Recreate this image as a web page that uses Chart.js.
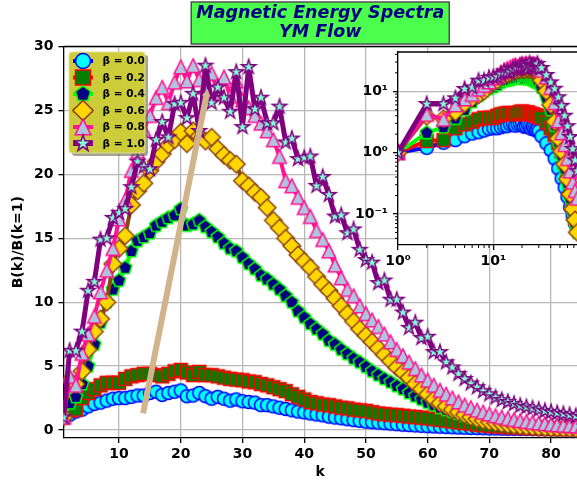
<!DOCTYPE html>
<html>
<head>
<meta charset="utf-8">
<script src="https://cdn.jsdelivr.net/npm/chart.js@4.4.0/dist/chart.umd.min.js"></script>
<style>
  html, body { margin: 0; padding: 0; background: #fff; overflow: hidden; }
  #wrap { position: relative; width: 577px; height: 485px; }
  #main { position: absolute; left: 0; top: 0; }
  #inset { position: absolute; left: 330px; top: 40px; }
</style>
</head>
<body>
<div id="wrap">
  <canvas id="main" width="577" height="485"></canvas>
  <canvas id="inset" width="247" height="240"></canvas>
</div>
<script>
// wavenumbers
const kValues = [
  1, 2, 3, 4, 5, 6, 7, 8, 9, 10, 11, 12, 13, 14, 15, 16, 17, 18, 19, 20,
  21, 22, 23, 24, 25, 26, 27, 28, 29, 30, 31, 32, 33, 34, 35, 36, 37, 38, 39, 40,
  41, 42, 43, 44, 45, 46, 47, 48, 49, 50, 51, 52, 53, 54, 55, 56, 57, 58, 59, 60,
  61, 62, 63, 64, 65, 66, 67, 68, 69, 70, 71, 72, 73, 74, 75, 76, 77, 78, 79, 80,
  81, 82, 83, 84, 85, 86, 87, 88
];

// B(k)/B(k=1) for each beta (main panel)
const beta00 = [
  1.0, 1.2, 1.45, 1.6, 1.85, 2.05, 2.15, 2.3, 2.45, 2.5,
  2.5, 2.6, 2.7, 2.7, 2.9, 3.0, 2.75, 2.9, 3.0, 3.1,
  2.65, 2.7, 2.9, 2.65, 2.45, 2.6, 2.45, 2.3, 2.4, 2.25,
  2.2, 2.15, 1.95, 1.95, 1.85, 1.75, 1.65, 1.55, 1.45, 1.38,
  1.3, 1.22, 1.15, 1.05, 0.98, 0.92, 0.85, 0.78, 0.72, 0.66,
  0.62, 0.58, 0.54, 0.5, 0.46, 0.42, 0.39, 0.36, 0.33, 0.3,
  0.28, 0.26, 0.24, 0.22, 0.2, 0.185, 0.17, 0.155, 0.145, 0.13,
  0.12, 0.11, 0.1, 0.095, 0.09, 0.085, 0.08, 0.075, 0.07, 0.066,
  0.062, 0.058, 0.055, 0.052, 0.05, 0.048, 0.046, 0.044
];
const beta02 = [
  1.0, 1.55, 1.6, 2.5, 2.9, 3.2, 3.5, 3.7, 3.7, 3.7,
  4.0, 4.2, 4.3, 4.4, 4.4, 4.3, 4.2, 4.4, 4.6, 4.7,
  4.5, 4.3, 4.55, 4.3, 4.3, 4.2, 4.1, 4.0, 3.95, 3.9,
  3.8, 3.75, 3.6, 3.5, 3.35, 3.2, 3.05, 2.8, 2.6, 2.4,
  2.2, 2.1, 2.0, 1.95, 1.85, 1.75, 1.7, 1.6, 1.55, 1.5,
  1.4, 1.3, 1.25, 1.2, 1.17, 1.12, 1.06, 1.02, 0.97, 0.92,
  0.86, 0.8, 0.73, 0.67, 0.6, 0.55, 0.5, 0.43, 0.38, 0.33,
  0.3, 0.27, 0.24, 0.22, 0.2, 0.18, 0.16, 0.15, 0.13, 0.12,
  0.11, 0.1, 0.09, 0.085, 0.08, 0.075, 0.07, 0.065
];
const beta04 = [
  1.0, 2.1, 2.6, 3.6, 5.0, 6.7, 8.4, 10.0, 11.0, 11.7,
  12.7, 14.0, 14.8, 15.1, 15.4, 16.0, 16.3, 16.6, 16.8, 17.3,
  16.0, 16.1, 16.4, 15.9, 15.5, 15.1, 14.6, 14.2, 14.0, 13.5,
  13.0, 12.6, 12.1, 11.8, 11.4, 11.0, 10.5, 10.0, 9.3, 8.8,
  8.3, 7.9, 7.5, 7.0, 6.7, 6.3, 5.95, 5.6, 5.3, 4.95,
  4.6, 4.3, 4.0, 3.75, 3.45, 3.2, 2.9, 2.65, 2.4, 2.15,
  1.95, 1.75, 1.6, 1.45, 1.3, 1.15, 1.0, 0.88, 0.77, 0.67,
  0.6, 0.53, 0.47, 0.42, 0.37, 0.33, 0.3, 0.27, 0.24, 0.22,
  0.2, 0.18, 0.16, 0.15, 0.14, 0.13, 0.12, 0.11
];
const beta06 = [
  1.0, 3.9, 3.6, 4.6, 6.3, 7.7, 8.7, 10.0, 13.0, 14.2,
  15.2, 17.6, 18.7, 19.3, 20.3, 21.0, 21.6, 22.3, 22.7, 23.3,
  22.4, 23.4, 23.0, 22.6, 22.9, 22.0, 21.5, 21.1, 20.8, 19.5,
  19.1, 18.6, 18.2, 17.4, 16.4, 15.8, 15.0, 14.4, 13.7, 13.2,
  12.7, 12.0, 11.4, 10.9, 10.3, 9.7, 9.1, 8.5, 7.9, 7.4,
  6.9, 6.4, 5.9, 5.4, 4.9, 4.5, 4.1, 3.6, 3.2, 2.8,
  2.4, 2.1, 1.85, 1.6, 1.4, 1.2, 1.02, 0.88, 0.75, 0.65,
  0.56, 0.48, 0.42, 0.36, 0.31, 0.27, 0.24, 0.21, 0.19, 0.17,
  0.15, 0.13, 0.12, 0.11, 0.1, 0.09, 0.085, 0.08
];
const beta08 = [
  1.0, 4.2, 3.5, 6.0, 7.5, 8.9, 10.8, 12.5, 14.2, 16.5,
  18.0, 20.3, 21.8, 23.5, 24.6, 26.0, 26.8, 25.6, 27.2, 28.4,
  27.3, 28.5, 27.4, 26.8, 27.9, 26.4, 27.6, 26.1, 27.3, 25.8,
  25.2, 24.6, 24.0, 23.4, 22.7, 21.4, 19.5, 19.1, 18.2, 17.4,
  16.7, 15.6, 14.9, 14.0, 12.9, 11.9, 11.0, 10.5, 9.7, 9.1,
  8.6, 8.1, 7.5, 6.9, 6.3, 5.8, 5.3, 4.8, 4.3, 3.9,
  3.5, 3.1, 2.8, 2.5, 2.2, 1.95, 1.75, 1.55, 1.4, 1.25,
  1.12, 1.0, 0.9, 0.82, 0.74, 0.67, 0.61, 0.55, 0.5, 0.45,
  0.41, 0.37, 0.34, 0.31, 0.28, 0.26, 0.24, 0.22
];
const beta10 = [
  1.0, 6.2, 6.2, 7.7, 10.9, 11.6, 14.9, 15.0, 16.6, 17.0,
  17.3, 19.0, 21.0, 20.6, 20.4, 22.7, 24.1, 22.9, 25.5, 25.6,
  24.4, 26.3, 23.4, 28.5, 25.6, 26.8, 26.0, 24.9, 28.0, 23.7,
  28.4, 25.1, 26.0, 24.0, 24.0, 25.3, 22.5, 22.8, 21.2, 21.3,
  21.4, 19.1, 19.8, 18.4, 16.7, 16.8, 15.4, 15.7, 14.1, 13.3,
  13.1, 11.5, 11.7, 10.2, 10.2, 9.2, 8.0, 8.4, 7.2, 7.3,
  6.1, 6.1, 5.3, 4.9, 4.4, 4.0, 3.65, 3.35, 3.05, 2.8,
  2.55, 2.35, 2.2, 2.05, 1.9, 1.8, 1.7, 1.6, 1.5, 1.42,
  1.34, 1.26, 1.18, 1.1, 1.03, 0.96, 0.9, 0.85
];

// inset: same spectra up to k = 30, then its own faster fall-off
const insetHeadCount = 30;
const insetTailK = [32, 36, 40, 44, 48, 52, 56, 60, 64, 68, 72, 76];
const insetTail00 = [1.85, 1.42, 1.1, 0.8, 0.55, 0.38, 0.27, 0.19, 0.13, 0.095, 0.07, 0.055];
const insetTail02 = [3.7, 3.1, 2.5, 1.95, 1.45, 1.05, 0.7, 0.42, 0.26, 0.15, 0.085, 0.06];
const insetTail04 = [11.5, 8.0, 5.0, 2.8, 1.5, 0.9, 0.55, 0.32, 0.18, 0.11, 0.07, 0.05];
const insetTail06 = [15.0, 10.0, 6.0, 3.2, 1.7, 1.05, 0.65, 0.37, 0.21, 0.12, 0.08, 0.05];
const insetTail08 = [22.0, 17.0, 11.5, 6.5, 3.3, 2.1, 1.35, 0.8, 0.5, 0.33, 0.24, 0.18];
const insetTail10 = [24.0, 18.5, 14.0, 11.0, 8.0, 5.8, 4.0, 2.7, 1.8, 1.15, 0.75, 0.5];

const seriesLabels = ['β = 0.0', 'β = 0.2', 'β = 0.4', 'β = 0.6', 'β = 0.8', 'β = 1.0'];
const seriesValues = [beta00, beta02, beta04, beta06, beta08, beta10];
const insetTails = [insetTail00, insetTail02, insetTail04, insetTail06, insetTail08, insetTail10];

const xTicks = [10, 20, 30, 40, 50, 60, 70, 80];
const yTicks = [0, 5, 10, 15, 20, 25, 30];
const insetXTicks = [1, 10];
const insetXLabels = ['10⁰', '10¹'];
const insetYTicks = [0.1, 1, 10];
const insetYLabels = ['10⁻¹', '10⁰', '10¹'];
const insetXMinor = [2, 3, 4, 5, 6, 7, 8, 9, 20, 30, 40, 50, 60, 70];
const insetYMinor = [0.04, 0.05, 0.06, 0.07, 0.08, 0.09, 0.2, 0.3, 0.4, 0.5, 0.6, 0.7, 0.8, 0.9,
                     2, 3, 4, 5, 6, 7, 8, 9, 20, 30, 40];

// the tan arrow
const arrowK = [13.9, 24.2];
const arrowV = [1.3, 26.3];

const FONT = 'DejaVu Sans';
Chart.defaults.font.family = FONT;

//========================
// marker shapes
//========================
const styles = [
  { shape: 'circle',   r: 6.5, fill: '#00ffff', edge: '#0000ff', line: '#0000ff', lw: 4 },
  { shape: 'square',   r: 6.5, fill: '#008000', edge: '#ff0000', line: '#ff0000', lw: 4 },
  { shape: 'pentagon', r: 7,   fill: '#000080', edge: '#00ff00', line: '#00ff00', lw: 4 },
  { shape: 'diamond',  r: 8.8, fill: '#ffd700', edge: '#8b4513', line: '#8b4513', lw: 4 },
  { shape: 'triangle', r: 6.8, fill: '#b0c4de', edge: '#ff1493', line: '#ff1493', lw: 4 },
  { shape: 'star',     r: 7.5, fill: '#7fffd4', edge: '#800080', line: '#800080', lw: 5 }
];

function drawShape(ctx, st, x, y, scale) {
  const r = st.r * scale;
  ctx.beginPath();
  if (st.shape === 'circle') {
    ctx.arc(x, y, r, 0, Math.PI * 2);
  } else if (st.shape === 'square') {
    ctx.rect(x - r, y - r, 2 * r, 2 * r);
  } else if (st.shape === 'diamond') {
    ctx.moveTo(x, y - r); ctx.lineTo(x + r, y); ctx.lineTo(x, y + r); ctx.lineTo(x - r, y);
  } else if (st.shape === 'triangle') {
    ctx.moveTo(x, y - r); ctx.lineTo(x + r, y + r); ctx.lineTo(x - r, y + r);
  } else if (st.shape === 'pentagon') {
    for (let i = 0; i < 5; i++) {
      const a = -Math.PI / 2 + i * 2 * Math.PI / 5;
      ctx.lineTo(x + r * Math.cos(a), y + r * Math.sin(a));
    }
  } else if (st.shape === 'star') {
    for (let i = 0; i < 10; i++) {
      const a = -Math.PI / 2 + i * Math.PI / 5;
      const rr = i % 2 ? r * 0.382 : r;
      ctx.lineTo(x + rr * Math.cos(a), y + rr * Math.sin(a));
    }
  }
  ctx.closePath();
  ctx.fillStyle = st.fill;
  ctx.fill();
  ctx.lineWidth = 1.5;
  ctx.strokeStyle = st.edge;
  ctx.stroke();
}

function makeMarker(st) {
  const c = document.createElement('canvas');
  const half = Math.ceil(st.r * 1.2 + 2);
  c.width = c.height = half * 2;
  drawShape(c.getContext('2d'), st, half, half, 1);
  return c;
}
const markers = styles.map(makeMarker);

function styleSet(i, points) {
  return {
    label: seriesLabels[i],
    data: points,
    borderColor: styles[i].line,
    borderWidth: styles[i].lw,
    borderJoinStyle: 'round',
    tension: 0,
    pointStyle: markers[i],
    pointRadius: 6,
    pointHoverRadius: 6,
    order: 7 - i
  };
}

function mainSets() {
  return seriesValues.map((vals, i) => styleSet(i, kValues.map((k, j) => ({ x: k, y: vals[j] }))));
}

function insetSets() {
  return seriesValues.map((vals, i) => {
    const head = kValues.slice(0, insetHeadCount).map((k, j) => ({ x: k, y: vals[j] }));
    const tail = insetTailK.map((k, j) => ({ x: k, y: insetTails[i][j] }));
    return styleSet(i, head.concat(tail));
  });
}

//========================
// plugins
//========================
const titleBox = {
  id: 'titleBox',
  beforeDraw(chart) {
    const { ctx, chartArea, titleBlock } = chart;
    const lines = chart.options.plugins.title.text;
    ctx.save();
    ctx.font = 'italic bold 17.5px ' + FONT;
    const w = Math.max(...lines.map(s => ctx.measureText(s).width)) + 10;
    const cx = (chartArea.left + chartArea.right) / 2;
    const top = titleBlock.top + 2;
    const h = titleBlock.bottom - 2.5 - top;
    ctx.fillStyle = '#4dff4d';
    ctx.fillRect(cx - w / 2, top, w, h);
    ctx.strokeStyle = '#505050';
    ctx.lineWidth = 1.5;
    ctx.strokeRect(cx - w / 2, top, w, h);
    ctx.restore();
  }
};

const topSpine = {
  id: 'topSpine',
  afterDraw(chart) {
    const { ctx, chartArea } = chart;
    ctx.save();
    ctx.strokeStyle = '#000';
    ctx.lineWidth = 1.3;
    ctx.beginPath();
    ctx.moveTo(chartArea.left, chartArea.top);
    ctx.lineTo(chartArea.right + 2, chartArea.top);
    ctx.stroke();
    ctx.restore();
  }
};

const betaLegend = {
  id: 'betaLegend',
  afterDatasetsDraw(chart) {
    const { ctx, chartArea } = chart;
    const x0 = chartArea.left + 5.5, y0 = chartArea.top + 5.5;
    const w = 76, h = 101, rowH = 16.5;
    ctx.save();
    ctx.fillStyle = 'rgba(90, 90, 60, 0.55)';
    ctx.beginPath(); ctx.roundRect(x0 + 3, y0 + 3, w, h, 3); ctx.fill();
    ctx.fillStyle = '#cdcd3c';
    ctx.strokeStyle = '#dede90';
    ctx.lineWidth = 1;
    ctx.beginPath(); ctx.roundRect(x0, y0, w, h, 3); ctx.fill(); ctx.stroke();
    seriesLabels.forEach((lab, i) => {
      const y = y0 + 9 + i * rowH;
      const mx = x0 + 14;
      ctx.strokeStyle = styles[i].line;
      ctx.lineWidth = styles[i].lw;
      ctx.beginPath(); ctx.moveTo(mx - 10, y); ctx.lineTo(mx + 10, y); ctx.stroke();
      drawShape(ctx, styles[i], mx, y, 1.15);
      ctx.fillStyle = '#000';
      ctx.font = 'bold 10.5px ' + FONT;
      ctx.textBaseline = 'middle';
      ctx.fillText(lab, x0 + 33.5, y + 0.5);
    });
    ctx.restore();
  }
};

const tickFont = { family: FONT, size: 14, weight: 'bold' };
const gridOpts = { color: '#b8b8b8', lineWidth: 1.3, tickLength: 5, tickColor: '#000', tickWidth: 1.3 };
const borderOpts = { color: '#000', width: 1.3 };

function fixX(height) {
  return s => { s.height = height; s.paddingLeft = 0; s.paddingRight = 0; };
}
function fixY(width) {
  return s => { s.width = width; s.paddingTop = 0; s.paddingBottom = 0; };
}

//========================
// main chart
//========================
const arrowSet = {
  label: 'arrow',
  data: arrowK.map((k, i) => ({ x: k, y: arrowV[i] })),
  borderColor: '#d2b48c',
  backgroundColor: '#d2b48c',
  borderWidth: 6,
  borderCapStyle: 'butt',
  pointStyle: 'triangle',
  pointRadius: [0, 5],
  pointBorderWidth: 0,
  pointRotation: 11,
  order: 1
};

new Chart(document.getElementById('main'), {
  type: 'line',
  data: { datasets: [...mainSets(), arrowSet] },
  options: {
    responsive: false,
    animation: false,
    events: [],
    layout: { padding: 0, autoPadding: false },
    plugins: {
      legend: { display: false },
      tooltip: { enabled: false },
      title: {
        display: true,
        fullSize: false,
        text: ['Magnetic Energy Spectra', 'YM Flow'],
        color: '#000080',
        font: { family: FONT, size: 17.5, weight: 'bold', style: 'italic', lineHeight: 1.1 },
        padding: { top: 4, bottom: 4 }
      }
    },
    scales: {
      x: {
        type: 'linear', min: 1, max: 84.2,
        afterBuildTicks: s => { s.ticks = xTicks.map(v => ({ value: v })); },
        afterFit: fixX(47),
        ticks: { font: tickFont, color: '#000', padding: 3, maxRotation: 0 },
        grid: gridOpts,
        border: borderOpts,
        title: { display: true, text: 'k', color: '#000', font: tickFont, padding: { top: 0, bottom: 4 } }
      },
      y: {
        type: 'linear', min: -0.62, max: 30,
        afterBuildTicks: s => { s.ticks = yTicks.map(v => ({ value: v })); },
        afterFit: fixY(63.5),
        ticks: { font: tickFont, color: '#000', padding: 5 },
        grid: gridOpts,
        border: borderOpts,
        title: { display: true, text: 'B(k)/B(k=1)', color: '#000', font: tickFont, padding: { top: 9.6, bottom: 0 } }
      }
    }
  },
  plugins: [titleBox, topSpine, betaLegend]
});

//========================
// inset (log-log)
//========================
const insetFrame = {
  id: 'insetFrame',
  beforeDraw(chart) {
    const { ctx, chartArea } = chart;
    ctx.save();
    ctx.fillStyle = '#fff';
    ctx.fillRect(chartArea.left, chartArea.top, chartArea.right - chartArea.left, chartArea.bottom - chartArea.top);
    ctx.restore();
  },
  afterDraw(chart) {
    const { ctx, chartArea, scales } = chart;
    ctx.save();
    ctx.strokeStyle = '#000';
    ctx.lineWidth = 1.3;
    ctx.beginPath();
    ctx.moveTo(chartArea.left, chartArea.top);
    ctx.lineTo(chartArea.right + 2, chartArea.top);
    ctx.stroke();
    ctx.lineWidth = 1;
    ctx.beginPath();
    insetXMinor.forEach(v => {
      const px = scales.x.getPixelForValue(v);
      ctx.moveTo(px, chartArea.bottom); ctx.lineTo(px, chartArea.bottom + 3);
    });
    insetYMinor.forEach(v => {
      const py = scales.y.getPixelForValue(v);
      ctx.moveTo(chartArea.left, py); ctx.lineTo(chartArea.left - 3, py);
    });
    ctx.stroke();
    ctx.restore();
  }
};

new Chart(document.getElementById('inset'), {
  type: 'line',
  data: { datasets: insetSets() },
  options: {
    responsive: false,
    animation: false,
    events: [],
    layout: { padding: { top: 12, left: 0, right: 0, bottom: 0 }, autoPadding: false },
    plugins: { legend: { display: false }, tooltip: { enabled: false } },
    scales: {
      x: {
        type: 'logarithmic', min: 1, max: 75.5,
        afterBuildTicks: s => { s.ticks = insetXTicks.map(v => ({ value: v })); },
        afterFit: fixX(35),
        ticks: { font: tickFont, color: '#000', padding: 3, maxRotation: 0, autoSkip: false,
                 callback: (v, i) => insetXLabels[i] },
        grid: gridOpts,
        border: borderOpts
      },
      y: {
        type: 'logarithmic', min: 0.0312, max: 43.7,
        afterBuildTicks: s => { s.ticks = insetYTicks.map(v => ({ value: v })); },
        afterFit: fixY(68),
        ticks: { font: tickFont, color: '#000', padding: 5, autoSkip: false,
                 callback: (v, i) => insetYLabels[i] },
        grid: gridOpts,
        border: borderOpts
      }
    }
  },
  plugins: [insetFrame]
});
</script>
</body>
</html>
